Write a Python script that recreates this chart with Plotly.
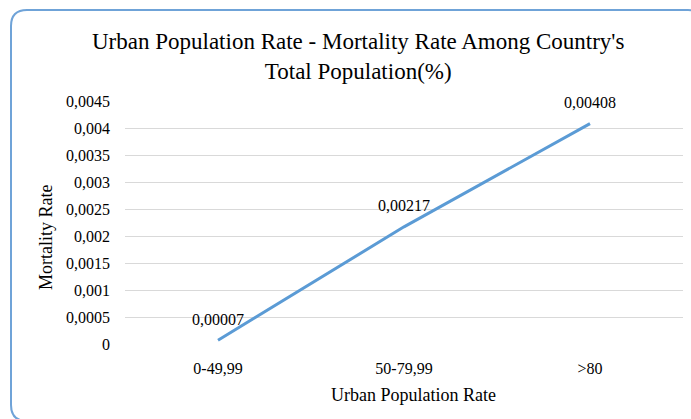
import plotly.graph_objects as go

categories = ["0-49,99", "50-79,99", ">80"]
mortality = [0.00007, 0.00217, 0.00408]
labels = ["0,00007", "0,00217", "0,00408"]
ytick_vals = [0, 0.0005, 0.001, 0.0015, 0.002, 0.0025, 0.003, 0.0035, 0.004, 0.0045]
ytick_text = ["0", "0,0005", "0,001", "0,0015", "0,002", "0,0025", "0,003", "0,0035", "0,004", "0,0045"]

W, H = 691, 419
ML, MR, MT, MB = 125, 8, 101, 75
PW, PH = W - ML - MR, H - MT - MB

def px(x):
    return (x - ML) / PW

def py(y):
    return (H - MB - y) / PH

FONT = "Liberation Serif, Times New Roman, serif"

fig = go.Figure()
fig.add_trace(go.Scatter(
    x=categories, y=mortality, mode="lines",
    line=dict(color="#5B9BD5", width=3), showlegend=False, hoverinfo="skip"))

for c, v, t in zip(categories, mortality, labels):
    fig.add_annotation(x=c, y=v, text=t, showarrow=False, yshift=21,
                       font=dict(family=FONT, size=16, color="#000000"))

# rounded border
x0, y0, x1, y1, r = 11, 10, 704, 421, 16
path = (f"M {px(x0+r)},{py(y0)} L {px(x1-r)},{py(y0)} Q {px(x1)},{py(y0)} {px(x1)},{py(y0+r)} "
        f"L {px(x1)},{py(y1-r)} Q {px(x1)},{py(y1)} {px(x1-r)},{py(y1)} "
        f"L {px(x0+r)},{py(y1)} Q {px(x0)},{py(y1)} {px(x0)},{py(y1-r)} "
        f"L {px(x0)},{py(y0+r)} Q {px(x0)},{py(y0)} {px(x0+r)},{py(y0)} Z")
fig.add_shape(type="path", path=path, xref="paper", yref="paper",
              line=dict(color="#6FA3D8", width=2), layer="below")

fig.add_annotation(text="Mortality Rate", x=px(46), y=py(238), xref="paper", yref="paper",
                   textangle=-90, showarrow=False, xanchor="center", yanchor="middle",
                   font=dict(family=FONT, size=18, color="#000000"))
fig.add_annotation(text="Urban Population Rate", x=px(414), y=py(395), xref="paper", yref="paper",
                   showarrow=False, xanchor="center", yanchor="middle",
                   font=dict(family=FONT, size=18, color="#000000"))

fig.add_annotation(text="Urban Population Rate - Mortality Rate Among Country's<br>Total Population(%)",
                   x=px(358), y=py(56), xref="paper", yref="paper",
                   showarrow=False, xanchor="center", yanchor="middle", align="center",
                   font=dict(family=FONT, size=23, color="#000000"))

fig.update_layout(
    width=W, height=H,
    margin=dict(l=ML, r=MR, t=MT, b=MB),
    paper_bgcolor="white", plot_bgcolor="white",
    separators=", ",
    xaxis=dict(range=[-0.5, 2.5], showgrid=False, showline=False, zeroline=False, ticks="",
               tickfont=dict(family=FONT, size=16, color="#000000"), ticklabelstandoff=13,
               fixedrange=True),
    yaxis=dict(range=[0, 0.0045], tickvals=ytick_vals, ticktext=ytick_text,
               showgrid=True, gridcolor="#D9D9D9", gridwidth=1, zeroline=False, showline=False,
               ticks="", tickfont=dict(family=FONT, size=16, color="#000000"), ticklabelstandoff=14,
               fixedrange=True),
)

fig.write_html("out.html", config={"displayModeBar": False},
               post_script="document.body.style.margin='0';document.body.style.overflow='hidden';")
